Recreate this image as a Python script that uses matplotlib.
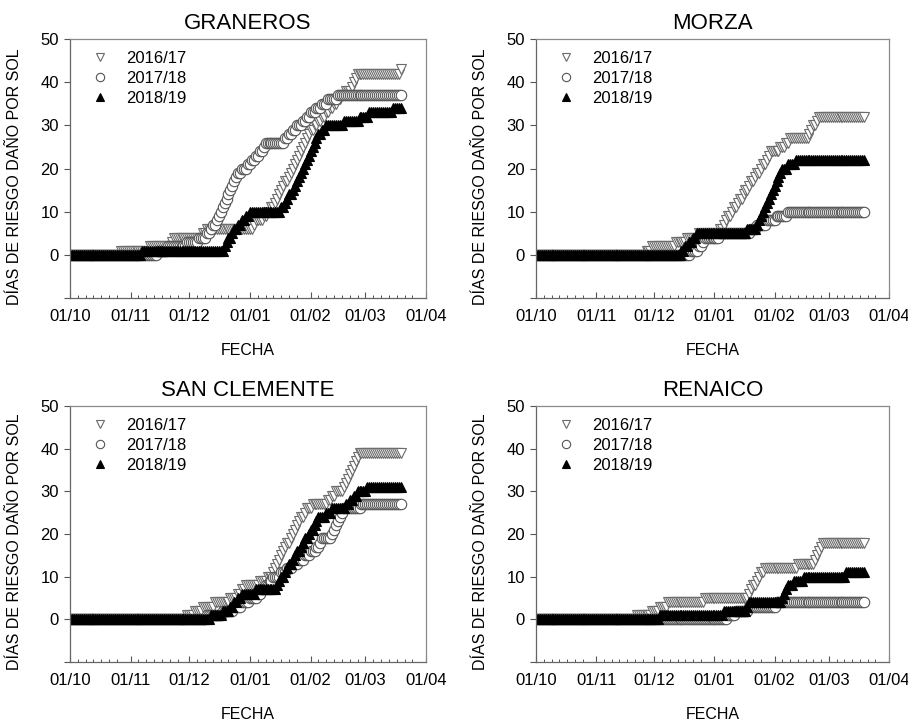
import numpy as np
import matplotlib
matplotlib.use("Agg")
import matplotlib.pyplot as plt
import matplotlib.dates as mdates
from datetime import date, timedelta

plt.rcParams['font.family'] = ['Liberation Sans', 'DejaVu Sans']

# dias de riesgo (dias contados desde el 01/10 de cada temporada)
SEASON_START = date(2016, 10, 1)
N_DAYS = 170   # 01/10 .. 19/03

stations = ['GRANEROS', 'MORZA', 'SAN CLEMENTE', 'RENAICO']
seasons = ['2016/17', '2017/18', '2018/19']

graneros_1617 = [26, 41, 52, 53, 68, 70, 94, 95, 99, 101, 103, 105,
                 106, 107, 108, 109, 110, 112, 113, 114,
                 115, 116, 117, 118, 119, 120, 121, 122, 123,
                 125, 127, 129, 131, 133, 135, 137, 139, 141,
                 144, 145, 146, 147, 169]
graneros_1718 = [45, 50, 60, 66, 70, 72, 73, 75, 76, 77, 78, 79, 80,
                 81, 82, 83, 84, 85, 86, 88, 91, 93, 95, 97, 99, 100,
                 110, 112, 114, 116, 119, 121, 123, 126, 129, 132, 137]
graneros_1819 = [37, 79, 80, 81, 83, 84, 86, 88, 90, 92,
                 108, 110, 111, 112, 114, 115, 116, 117, 118, 119,
                 120, 121, 122, 123, 124, 125, 126, 127, 129, 131,
                 140, 148, 153, 165]

morza_1617 = [57, 60, 72, 78, 84, 95, 97, 98, 99, 101, 102, 104, 105,
              107, 108, 110, 111, 113, 114, 116, 117, 119, 120, 121,
              126, 129, 131, 141, 142, 143, 145, 146]
morza_1718 = [80, 84, 86, 87, 95, 111, 114, 119, 124, 130]
morza_1819 = [75, 77, 79, 81, 83, 109, 114, 115, 116, 117, 118, 119,
              120, 121, 122, 123, 124, 125, 126, 127, 130, 134]

sanclemente_1617 = [60, 64, 68, 74, 82, 86, 88, 90, 97, 101,
                    104, 105, 106, 107, 108, 109, 110, 111, 113, 114,
                    115, 116, 117, 118, 120, 121, 124, 132, 134, 136,
                    140, 141, 142, 143, 144, 145, 146, 147, 148]
sanclemente_1718 = [70, 78, 84, 88, 92, 96, 98, 100, 102, 104,
                    108, 111, 114, 117, 120, 123, 126, 128, 129,
                    134, 135, 136, 137, 138, 139, 140, 149]
sanclemente_1819 = [72, 78, 82, 84, 86, 88, 95, 106, 107, 108, 110,
                    111, 112, 114, 115, 116, 118, 119, 120, 122, 123,
                    125, 126, 127, 131, 134, 141, 143, 145, 147, 152]

renaico_1617 = [52, 60, 64, 68, 87, 110, 111, 112, 114, 115, 116, 118,
                135, 144, 145, 146, 147, 148]
renaico_1718 = [99, 103, 110, 124]
renaico_1819 = [64, 97, 109, 110, 127, 128, 129, 130, 133, 138, 160]

risk_days = {
    'GRANEROS': [graneros_1617, graneros_1718, graneros_1819],
    'MORZA': [morza_1617, morza_1718, morza_1819],
    'SAN CLEMENTE': [sanclemente_1617, sanclemente_1718, sanclemente_1819],
    'RENAICO': [renaico_1617, renaico_1718, renaico_1819],
}

day_idx = np.arange(N_DAYS)
dates = [SEASON_START + timedelta(days=int(d)) for d in day_idx]

styles = [
    dict(marker='v', mfc='white', mec='#6a6a6a', ms=7, mew=0.8),
    dict(marker='o', mfc='white', mec='#555555', ms=7.5, mew=0.8),
    dict(marker='^', mfc='black', mec='black', ms=7, mew=0.8),
]

fig = plt.figure(figsize=(9.08, 7.23), dpi=100)
positions = [
    [0.0771, 0.5878, 0.3921, 0.3582],
    [0.5903, 0.5878, 0.3888, 0.3582],
    [0.0771, 0.0844, 0.3921, 0.3541],
    [0.5903, 0.0844, 0.3888, 0.3541],
]

for name, pos in zip(stations, positions):
    ax = fig.add_axes(pos)
    for lab, days, st in zip(seasons, risk_days[name], styles):
        cum = np.searchsorted(np.sort(days), day_idx, side='right')
        ax.plot(dates, cum, linestyle='none', label=lab, **st)

    ax.set_xlim(date(2016, 10, 1), date(2017, 4, 1))
    ax.set_ylim(-10, 50)
    ax.set_yticks([-10, 0, 10, 20, 30, 40, 50])
    ax.set_yticklabels(['', '0', '10', '20', '30', '40', '50'])
    ax.xaxis.set_major_locator(mdates.MonthLocator())
    ax.xaxis.set_major_formatter(mdates.DateFormatter('%d/%m'))
    ax.xaxis.set_minor_locator(mdates.DayLocator(bymonthday=[5, 9, 13, 17, 21, 25]))

    ax.tick_params(axis='y', direction='out', length=4, width=0.8,
                   color='#555555', labelsize=12, pad=4)
    ax.tick_params(axis='x', which='major', direction='in', length=4,
                   width=0.8, color='#555555', labelsize=12, pad=8)
    ax.tick_params(axis='x', which='minor', direction='in', length=2.5,
                   width=0.7, color='#555555')
    for sp in ax.spines.values():
        sp.set_color('#8a8a8a')
        sp.set_linewidth(0.9)
    ax.spines['left'].set_color('#666666')
    ax.spines['bottom'].set_color('#666666')

    ax.set_title(name, fontsize=16, pad=7)
    ax.set_ylabel('DÍAS DE RIESGO DAÑO POR SOL', fontsize=11.5)
    ax.yaxis.set_label_coords(-0.135, 0.47)
    ax.set_xlabel('FECHA', fontsize=11.5)
    ax.xaxis.set_label_coords(0.5, -0.175)

    ax.legend(loc='upper left', frameon=False, fontsize=12,
              handlelength=1.0, handletextpad=1.05, labelspacing=0.3,
              borderaxespad=0.3, markerscale=0.8,
              bbox_to_anchor=(0.028, 1.0))

fig.savefig('out.png', dpi=100)
